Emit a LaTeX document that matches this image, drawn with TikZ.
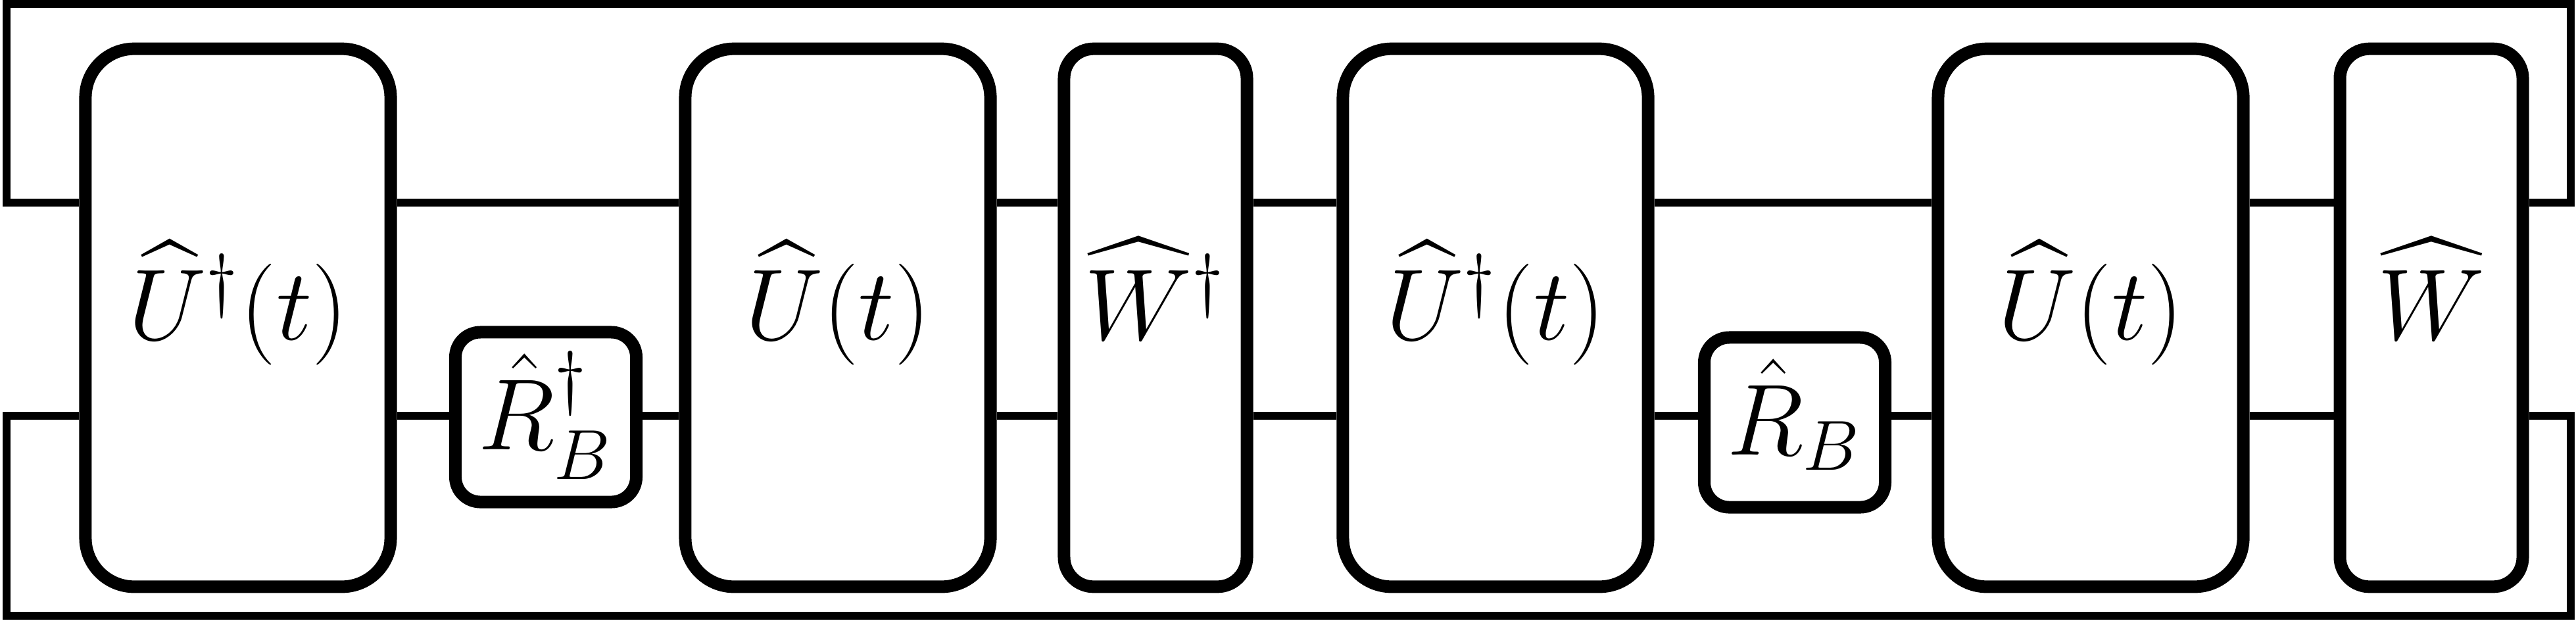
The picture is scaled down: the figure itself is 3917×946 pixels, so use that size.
\RequirePackage{fix-cm}
\documentclass[tikz,border=0pt]{standalone}
\usepackage{amsmath,amssymb}
\usepackage{tikz}

\begin{document}
\begin{tikzpicture}[x=0.04mm, y=-0.04mm,
  gate/.style={draw, line width=0.76mm, inner sep=0pt, font=\fontsize{17.5}{21}\selectfont},
  bigbox/.style={gate, minimum width=18.56mm, minimum height=32.7mm, rounded corners=2.96mm, text height=15.5pt, text depth=7.8pt},
  slimbox/.style={gate, minimum width=11.12mm, minimum height=32.7mm, rounded corners=1.8mm, text height=15.5pt, text depth=7.8pt},
  smallbox/.style={gate, minimum width=11mm, minimum height=10.32mm, rounded corners=1.52mm, text height=16.2pt, text depth=5pt},
  wire/.style={line width=0.48mm}]
  \useasboundingbox (0,0) rectangle (3917,946);

  % wire levels and corners of the trace loop
  \coordinate (upper) at (0,308);
  \coordinate (lower) at (0,632);
  \coordinate (tl) at (10,6);
  \coordinate (tr) at (3909,6);
  \coordinate (bl) at (10,936);
  \coordinate (br) at (3909,936);

  % gates
  \node[bigbox] (udagA) at (362,483) {$\widehat{U}^{\dagger}(t)$};
  \node[smallbox] (rdag) at (830,634) {$\hat{R}_B^{\dagger}$};
  \node[bigbox] (uA) at (1274,483) {$\widehat{U}(t)$};
  \node[slimbox] (wdag) at (1757,483) {$\widehat{W}^{\dagger}$};
  \node[bigbox] (udagB) at (2274,483) {$\widehat{U}^{\dagger}(t)$};
  \node[smallbox] (rb) at (2729,642) {$\hat{R}_B$};
  \node[bigbox] (uB) at (3179,483) {$\widehat{U}(t)$};
  \node[slimbox] (w) at (3697,483) {$\widehat{W}$};

  % upper wire
  \foreach \a/\b in {udagA/uA, uA/wdag, wdag/udagB, udagB/uB, uB/w}
    \draw[wire] (\a.east |- upper) -- (\b.west |- upper);
  % lower wire
  \foreach \a/\b in {udagA/rdag, rdag/uA, uA/wdag, wdag/udagB, udagB/rb, rb/uB, uB/w}
    \draw[wire] (\a.east |- lower) -- (\b.west |- lower);

  % closing the trace
  \draw[wire] (udagA.west |- upper) -- (tl |- upper) -- (tl) -- (tr) -- (tr |- upper) -- (w.east |- upper);
  \draw[wire] (udagA.west |- lower) -- (bl |- lower) -- (bl) -- (br) -- (br |- lower) -- (w.east |- lower);
\end{tikzpicture}
\end{document}
